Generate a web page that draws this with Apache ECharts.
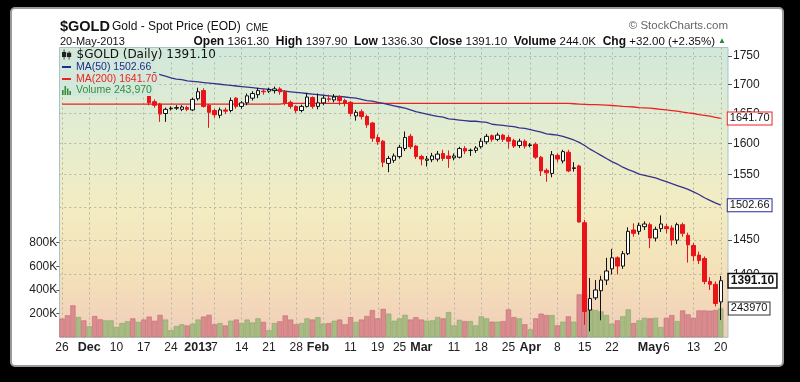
<!DOCTYPE html>
<html><head><meta charset="utf-8">
<script src="https://cdn.jsdelivr.net/npm/echarts@6/dist/echarts.min.js"></script>
<style>html,body{margin:0;padding:0;background:#000;}#c{width:800px;height:382px;}</style>
</head><body><div id="c"></div>
<script>
const dates = ['2012-11-26','2012-11-27','2012-11-28','2012-11-29','2012-11-30',
'2012-12-03','2012-12-04','2012-12-05','2012-12-06','2012-12-07','2012-12-10','2012-12-11','2012-12-12','2012-12-13','2012-12-14','2012-12-17','2012-12-18','2012-12-19','2012-12-20','2012-12-21','2012-12-24','2012-12-26','2012-12-27','2012-12-28','2012-12-31',
'2013-01-02','2013-01-03','2013-01-04','2013-01-07','2013-01-08','2013-01-09','2013-01-10','2013-01-11','2013-01-14','2013-01-15','2013-01-16','2013-01-17','2013-01-18','2013-01-21','2013-01-22','2013-01-23','2013-01-24','2013-01-25','2013-01-28','2013-01-29','2013-01-30','2013-01-31',
'2013-02-01','2013-02-04','2013-02-05','2013-02-06','2013-02-07','2013-02-08','2013-02-11','2013-02-12','2013-02-13','2013-02-14','2013-02-15','2013-02-19','2013-02-20','2013-02-21','2013-02-22','2013-02-25','2013-02-26','2013-02-27','2013-02-28',
'2013-03-01','2013-03-04','2013-03-05','2013-03-06','2013-03-07','2013-03-08','2013-03-11','2013-03-12','2013-03-13','2013-03-14','2013-03-15','2013-03-18','2013-03-19','2013-03-20','2013-03-21','2013-03-22','2013-03-25','2013-03-26','2013-03-27','2013-03-28',
'2013-04-01','2013-04-02','2013-04-03','2013-04-04','2013-04-05','2013-04-08','2013-04-09','2013-04-10','2013-04-11','2013-04-12','2013-04-15','2013-04-16','2013-04-17','2013-04-18','2013-04-19','2013-04-22','2013-04-23','2013-04-24','2013-04-25','2013-04-26','2013-04-29','2013-04-30',
'2013-05-01','2013-05-02','2013-05-03','2013-05-06','2013-05-07','2013-05-08','2013-05-09','2013-05-10','2013-05-13','2013-05-14','2013-05-15','2013-05-16','2013-05-17','2013-05-20'];

const opens = [1751,1749,1741,1717,1726,1712,1718,1697,1693,1701,1703,1712,1715,1716,1696,1696,1690,1670,1666,1650,1658,1659,1657,1660,1656,1675,1689,1664,1655,1647,1656,1655,1676,1662,1668,1676,1682,1688,1688,1689,1692,1687,1669,1662,1655,1662,1677,1662,1668,1675,1673,1678,1672,1669,1646,1653,1645,1634,1610,1604,1568,1573,1579,1592,1612,1596,1579,1573,1574,1575,1584,1580,1577,1578,1592,1589,1589,1595,1603,1613,1607,1614,1610,1605,1597,1604,1597,1599,1578,1557,1552,1581,1572,1586,1560,1564,1476,1350,1367,1377,1392,1408,1424,1412,1430,1465,1463,1470,1473,1453,1467,1470,1468,1450,1473,1457,1442,1428,1423,1390,1386,1361.3];
const highs = [1754,1752,1742,1730,1728,1724,1719,1701,1703,1707,1714,1719,1723,1718,1700,1700,1694,1674,1668,1660,1662,1664,1664,1663,1677,1694,1693,1666,1658,1660,1660,1677,1678,1671,1684,1688,1694,1692,1694,1696,1695,1690,1672,1664,1665,1685,1679,1684,1680,1682,1683,1681,1675,1671,1656,1657,1648,1636,1615,1606,1580,1584,1598,1620,1616,1598,1582,1580,1585,1588,1590,1589,1584,1595,1596,1592,1596,1609,1616,1615,1618,1616,1614,1608,1608,1607,1601,1602,1580,1560,1588,1584,1590,1590,1570,1566,1480,1395,1392,1398,1424,1437,1426,1434,1469,1475,1476,1478,1476,1470,1487,1474,1472,1476,1476,1461,1446,1433,1426,1396,1390,1397.9];
const lows = [1745,1738,1705,1714,1706,1709,1693,1690,1692,1695,1700,1708,1710,1693,1691,1688,1664,1660,1636,1636,1655,1656,1654,1654,1654,1672,1660,1626,1643,1642,1649,1652,1658,1658,1664,1672,1676,1682,1685,1684,1682,1664,1658,1651,1652,1660,1658,1657,1664,1670,1669,1664,1662,1645,1638,1640,1626,1603,1598,1562,1554,1569,1576,1588,1591,1575,1565,1563,1570,1571,1572,1561,1573,1576,1583,1580,1585,1592,1599,1603,1604,1603,1592,1593,1593,1592,1594,1575,1548,1539,1546,1570,1568,1554,1555,1476,1330,1321,1364,1336,1385,1400,1400,1408,1428,1455,1458,1465,1438,1448,1462,1460,1442,1444,1455,1417,1419,1415,1386,1378,1355,1336.3];
const closes = [1749,1741,1717,1726,1712,1718,1697,1693,1701,1703,1712,1715,1716,1696,1696,1694,1668,1664,1649,1657,1659,1660,1661,1657,1674,1687,1662,1652,1648,1656,1654,1672,1662,1668,1680,1684,1689,1687,1691,1692,1687,1668,1662,1655,1662,1678,1662,1668,1676,1674,1678,1672,1667,1650,1652,1645,1631,1609,1603,1570,1576,1580,1594,1610,1595,1579,1575,1575,1580,1583,1576,1576,1580,1592,1588,1589,1593,1604,1612,1607,1614,1607,1604,1596,1604,1596,1598,1578,1556,1553,1582,1575,1587,1556,1561,1477,1348,1366,1378,1392,1405,1424,1412,1430,1463,1460,1472,1474,1453,1466,1474,1467,1450,1473,1460,1443,1427,1420,1390,1386,1359.1,1391.1];
const volumes = [158000,186000,270000,171000,143000,93000,180000,152000,143000,143000,87000,
120000,135000,160000,130000,150000,175000,140000,190000,150000,60000,95000,110000,100000,115000,150000,175000,190000,110000,120000,100000,140000,150000,120000,150000,125000,160000,130000,60000,120000,135000,185000,150000,110000,120000,160000,150000,170000,115000,120000,140000,150000,110000,170000,130000,150000,180000,230000,160000,240000,200000,140000,160000,190000,150000,170000,150000,140000,
143000,171000,160000,213000,101000,148000,137000,137000,101000,177000,160000,132000,132000,137000,236000,171000,160000,110000,67000,160000,200000,188000,188000,101000,132000,177000,132000,363000,363000,242000,231000,219000,188000,115000,143000,177000,236000,120000,143000,165000,160000,165000,87000,165000,188000,137000,227000,194000,165000,227000,227000,225000,231000,243970];
const ma50 = [1738,1738,1737,1737,1736,1735,1734,1733,1732,1731,1730,1729,1728,1726,1724,1723,1722,1720,1717,1714,1711,1709,1708,1706,1705,1704,1703,1702,1701,1700,1699,1698,1697,1696,1695,1694,1693,1692,1691,1690,1689,1688,1687,1686,1685,1684,1683,1682,1681,1680,1679,1679,1678,1677,1676,1674,1672,1671,1669,1667,1665,1663,1661,1659,1656,1653,1651,1649,1647,1645,1644,1641,1640,1639,1638,1637,1637,1636,1635,1632,1631,1630,1629,1628,1626,1625,1623,1621,1619,1616,1615,1614,1612,1609,1606,1602,1597,1591,1586,1581,1576,1571,1567,1562,1558,1555,1551,1549,1547,1545,1542,1539,1536,1533,1530,1527,1523,1519,1514,1510,1506,1502.66];
const ma200 = [1666,1666,1666,1666,1666,1666,1666,1666,1666,1666,1666,1666,1666,1666,1666,1666,1666,1666,1666,1666,1666,1666,1666,1666,1666,1666,1666,1666,1666,1666,1666,1666,1666,1666,1666,1666,1666,1666,1666,1666,1666,1667,1667,1667,1667,1667,1667,1667,1667,1667,1667,1667,1667,1667,1667,1667,1667,1667,1667,1667,1667,1667,1667,1667,1667,1667,1667,1667,1667,1667,1667,1667,1667,1667,1667,1667,1667,1667,1667,1667,1667,1667,1667,1667,1667,1667,1667,1667,1667,1667,1667,1667,1667,1667,1666.5,1666,1665.5,1665,1665,1664.5,1664,1663.5,1663,1662,1661.5,1661,1660,1659.5,1659,1658,1657,1656,1655,1654,1652.5,1651,1650,1648,1647,1645.5,1643.5,1641.7];

const priceTicks = [1400,1450,1500,1550,1600,1650,1700,1750];
const volumeTicks = [200000,400000,600000,800000];
const xLabelDates = ['2012-11-26','2012-12-03','2012-12-10','2012-12-17','2012-12-24','2013-01-02','2013-01-07','2013-01-14','2013-01-21','2013-01-28','2013-02-01','2013-02-11','2013-02-19','2013-02-25','2013-03-01','2013-03-11','2013-03-18','2013-03-25','2013-04-01','2013-04-08','2013-04-15','2013-04-22','2013-05-01','2013-05-06','2013-05-13','2013-05-20'];
const xLabelTexts = ['26','Dec','10','17','24','2013','7','14','21','28','Feb','11','19','25','Mar','11','18','25','Apr','8','15','22','May','6','13','20'];
const boldLabels = ['Dec','2013','Feb','Mar','Apr','May'];
const gridDates = ['2012-11-26','2012-12-03','2012-12-10','2012-12-17','2012-12-24','2012-12-31','2013-01-07','2013-01-14','2013-01-21','2013-01-28','2013-02-04','2013-02-11','2013-02-19','2013-02-25','2013-03-04','2013-03-11','2013-03-18','2013-03-25','2013-04-01','2013-04-08','2013-04-15','2013-04-22','2013-04-29','2013-05-06','2013-05-13','2013-05-20'];
const axisPriceMin = 1313, axisPriceMax = 1765, axisVolumeMax = 2450000;

const n = dates.length;
const ln = Math.log;
const labelMap = {}; xLabelDates.forEach((d, i) => labelMap[d] = xLabelTexts[i]);
const gridSet = new Set(gridDates);
const candleData = dates.map((d, i) => [ln(opens[i]), ln(closes[i]), ln(lows[i]), ln(highs[i])]);
const RED_V = '#d98b8f', RED_VB = '#c46b72', GRN_V = '#a6bc82', GRN_VB = '#8ba466';
const volData = volumes.map((v, i) => {
  const up = i > 0 && closes[i] >= closes[i - 1];
  return { value: v, itemStyle: { color: up ? GRN_V : RED_V, borderColor: up ? GRN_VB : RED_VB } };
});
const bgTop = '#d2e8da';
const FONT = '"Liberation Sans", Arial, sans-serif';

const chart = echarts.init(document.getElementById('c'), null, { width: 800, height: 382 });
const legendBase = { orient: 'vertical', left: 60, z: 20, selectedMode: false, backgroundColor: bgTop, itemGap: 0, itemWidth: 9, borderRadius: 0 };
chart.setOption({
  animation: false,
  backgroundColor: '#000',
  graphic: [
    { type: 'rect', z: -10, shape: { x: 11, y: 8, width: 772, height: 358, r: 4 }, style: { fill: '#fff', stroke: '#9a9a9a', lineWidth: 2 } },
    { type: 'rect', z: -9, shape: { x: 59.5, y: 47.5, width: 668.5, height: 289.8 },
      style: { fill: new echarts.graphic.LinearGradient(0, 0, 0, 1, [
        { offset: 0, color: '#d1e8db' }, { offset: 0.3, color: '#e4edd0' }, { offset: 0.55, color: '#f3ecc2' },
        { offset: 0.8, color: '#f4dfb8' }, { offset: 1, color: '#f0cdbb' }]), stroke: '#a9c3c6', lineWidth: 1 } },
    { type: 'text', x: 60, y: 27, style: { text: '$GOLD', font: 'bold 14.5px ' + FONT, fill: '#111', textVerticalAlign: 'middle' } },
    { type: 'text', x: 112, y: 27, style: { text: 'Gold - Spot Price (EOD)', font: '12px ' + FONT, fill: '#111', textVerticalAlign: 'middle' } },
    { type: 'text', x: 246, y: 28, style: { text: 'CME', font: '10px ' + FONT, fill: '#111', textVerticalAlign: 'middle' } },
    { type: 'text', x: 60, y: 41.5, style: { text: '20-May-2013', font: '11px ' + FONT, fill: '#111', textVerticalAlign: 'middle' } },
    { type: 'text', x: 715, y: 41.5, style: {
      text: '{b|Open} {v|1361.30}  {b|High} {v|1397.90}  {b|Low} {v|1336.30}  {b|Close} {v|1391.10}  {b|Volume} {v|244.0K}  {b|Chg} {v|+32.00 (+2.35%)}',
      textAlign: 'right', textVerticalAlign: 'middle', fill: '#111',
      rich: { b: { font: 'bold 12px ' + FONT, fill: '#111' }, v: { font: '11.5px ' + FONT, fill: '#111' } } } },
    { type: 'text', x: 718, y: 41, style: { text: '▲', font: '8px ' + FONT, fill: '#1a8a2a', textVerticalAlign: 'middle' } },
    { type: 'text', x: 728, y: 26, style: { text: '© StockCharts.com', font: '11.5px ' + FONT, fill: '#666', textAlign: 'right', textVerticalAlign: 'middle' } }
  ],
  legend: [
    Object.assign({}, legendBase, { top: 48, padding: [0, 3, 0, 2], itemWidth: 10, itemHeight: 10,
      data: [{ name: '$GOLD (Daily) 1391.10', icon: 'path://M2,0h1v3h2v6h-2v3h-1v-3h-2v-6h2zM8,2h1v2h2v5h-2v3h-1v-3h-2v-5h2z', itemStyle: { color: '#222', borderWidth: 0 } }],
      textStyle: { fontFamily: '"DejaVu Sans", sans-serif', fontSize: 12, color: '#111', lineHeight: 13 } }),
    Object.assign({}, legendBase, { top: 61, padding: [0, 2, 0, 2], itemHeight: 2,
      data: [{ name: 'MA(50) 1502.66', icon: 'rect', itemStyle: { color: '#1f2d8c' }, textStyle: { color: '#1f2d8c' } }],
      textStyle: { fontFamily: FONT, fontSize: 10.5, lineHeight: 12 } }),
    Object.assign({}, legendBase, { top: 73, padding: [0, 2, 0, 2], itemHeight: 2,
      data: [{ name: 'MA(200) 1641.70', icon: 'rect', itemStyle: { color: '#e22' }, textStyle: { color: '#e22' } }],
      textStyle: { fontFamily: FONT, fontSize: 10.5, lineHeight: 12 } }),
    Object.assign({}, legendBase, { top: 85, padding: [0, 2, 0, 2], itemHeight: 9,
      data: [{ name: 'Volume 243,970', icon: 'path://M0,12V6h2v6zM3,12V1h2v11zM6,12V4h2v8zM9,12V7h2v5z', itemStyle: { color: '#3c8c3c', borderWidth: 0 }, textStyle: { color: '#3c8c3c' } }],
      textStyle: { fontFamily: FONT, fontSize: 10.5, lineHeight: 11 } })
  ],
  grid: { left: 59.3, top: 47.5, width: 664.2, height: 289.8, show: false },
  xAxis: {
    type: 'category', data: dates, boundaryGap: true,
    axisLine: { show: false }, axisTick: { show: false },
    axisLabel: {
      interval: (idx, val) => labelMap[val] !== undefined,
      formatter: (val) => boldLabels.includes(labelMap[val]) ? '{b|' + labelMap[val] + '}' : labelMap[val],
      margin: 4, color: '#222', fontFamily: FONT, fontSize: 12,
      rich: { b: { fontWeight: 'bold', fontSize: 12.5, color: '#222', fontFamily: FONT } }
    },
    splitLine: { show: true, alignWithLabel: true, interval: (idx, val) => gridSet.has(val), lineStyle: { color: '#b4b4a8', type: [2, 3], width: 1 } }
  },
  yAxis: [
    { type: 'value', position: 'right', offset: 4.5, min: ln(axisPriceMin), max: ln(axisPriceMax), scale: true,
      axisLine: { show: false },
      axisTick: { show: true, length: 4, customValues: priceTicks.map(ln), lineStyle: { color: '#555' } },
      axisLabel: { customValues: priceTicks.map(ln), formatter: v => String(Math.round(Math.exp(v))), margin: 5, color: '#222', fontFamily: FONT, fontSize: 12 },
      splitLine: { show: true, lineStyle: { color: '#b4b4a8', type: [2, 3], width: 1 } } },
    { type: 'value', position: 'left', min: 0, max: axisVolumeMax,
      axisLine: { show: false },
      axisTick: { show: true, length: 3, customValues: volumeTicks, lineStyle: { color: '#555' } },
      axisLabel: { customValues: volumeTicks, formatter: v => (v / 1000) + 'K', margin: 2, color: '#222', fontFamily: FONT, fontSize: 12 },
      splitLine: { show: false } }
  ],
  series: [
    { name: 'Volume 243,970', type: 'bar', yAxisIndex: 1, data: volData, barCategoryGap: '4%', z: 1,
      itemStyle: { borderWidth: 0.6 },
      markPoint: { symbol: 'rect', symbolSize: 0, silent: true,
        data: [{ coord: [dates[n - 1], volumes[n - 1]], value: volumes[n - 1] }],
        label: { show: true, position: 'right', distance: 8, formatter: String(volumes[n - 1]), color: '#111', fontFamily: FONT, fontSize: 11,
          backgroundColor: '#fff', borderColor: '#333', borderWidth: 1, padding: [1, 2, 0, 2] } } },
    { name: 'MA(200) 1641.70', type: 'line', data: ma200.map(ln), symbol: 'none', z: 3,
      lineStyle: { color: '#e22', width: 1.3 }, itemStyle: { color: '#e22' },
      endLabel: { show: true, formatter: ma200[n - 1].toFixed(2), distance: 7, color: '#111', fontFamily: FONT, fontSize: 11,
        backgroundColor: '#fff', borderColor: '#e22', borderWidth: 1, padding: [1, 2, 0, 2] } },
    { name: 'MA(50) 1502.66', type: 'line', data: ma50.map(ln), symbol: 'none', z: 3,
      lineStyle: { color: '#33338c', width: 1.3 }, itemStyle: { color: '#33338c' },
      endLabel: { show: true, formatter: ma50[n - 1].toFixed(2), distance: 7, color: '#111', fontFamily: FONT, fontSize: 11,
        backgroundColor: '#fff', borderColor: '#2a2aa0', borderWidth: 1, padding: [1, 2, 0, 2] } },
    { name: '$GOLD (Daily) 1391.10', type: 'candlestick', data: candleData, barWidth: 4, z: 4,
      itemStyle: { color: '#ffffff', color0: '#e8141a', borderColor: '#111', borderColor0: '#e8141a', borderColorDoji: '#111', borderWidth: 1 },
      markPoint: { symbol: 'rect', symbolSize: 0, silent: true,
        data: [{ coord: [dates[n - 1], ln(closes[n - 1])], value: closes[n - 1] }],
        label: { show: true, position: 'right', distance: 8, formatter: closes[n - 1].toFixed(2), color: '#111', fontWeight: 'bold', fontFamily: FONT, fontSize: 12,
          backgroundColor: '#fff', borderColor: '#111', borderWidth: 1.5, padding: [1, 2, 0, 2] } } }
  ]
});
</script></body></html>
